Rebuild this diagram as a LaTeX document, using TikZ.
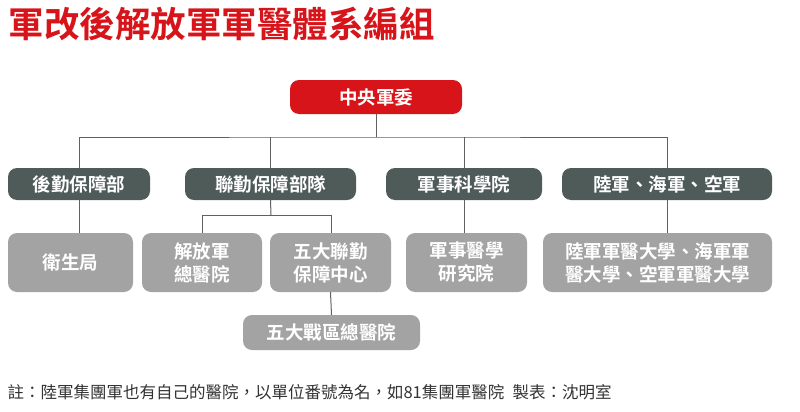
\documentclass[tikz,border=0pt]{standalone}
\usepackage{fontspec}
\setmainfont{Noto Sans CJK TC}
\newfontfamily\cjkb{Noto Sans CJK TC Bold}
\definecolor{tred}{HTML}{D7141A}
\definecolor{dgray}{HTML}{4F5B59}
\definecolor{lgray}{HTML}{A3A3A3}
\definecolor{lcol}{HTML}{606060}
\begin{document}
\begin{tikzpicture}[x=1pt,y=-1pt,
  box/.style={rounded corners=9pt,inner sep=0pt,text=white,font=\cjkb\fontsize{18.5}{23}\selectfont,align=center},
  dbox/.style={box,fill=dgray},
  gbox/.style={box,fill=lgray},
  ln/.style={draw=lcol,line width=1pt}]
\useasboundingbox (0,0) rectangle (800,412);
\node[anchor=west,text=tred,font=\cjkb\fontsize{35.5}{38}\selectfont] (title) at (5,24) {軍改後解放軍軍醫體系編組};
\node[box,fill=tred,minimum width=172pt,minimum height=34pt] (top) at (376,97) {中央軍委};
\node[dbox,minimum width=142pt,minimum height=32pt] (a) at (79,184) {後勤保障部};
\node[dbox,minimum width=171pt,minimum height=32pt] (b) at (270.5,184) {聯勤保障部隊};
\node[dbox,minimum width=156pt,minimum height=32pt] (c) at (464,184) {軍事科學院};
\node[dbox,minimum width=210pt,minimum height=32pt] (d) at (667,184) {陸軍、海軍、空軍};
\node[gbox,minimum width=125pt,minimum height=59pt] (a1) at (70.5,262.5) {衛生局};
\node[gbox,minimum width=120pt,minimum height=59pt] (b1) at (202,262.5) {解放軍\\總醫院};
\node[gbox,minimum width=121pt,minimum height=59pt] (b2) at (330.5,262.5) {五大聯勤\\保障中心};
\node[gbox,minimum width=121pt,minimum height=59pt] (c1) at (466.5,262.5) {軍事醫學\\研究院};
\node[gbox,minimum width=229pt,minimum height=59pt] (d1) at (657.5,262.5) {陸軍軍醫大學、海軍軍\\醫大學、空軍軍醫大學};
\node[gbox,minimum width=177pt,minimum height=35pt] (b3) at (331.5,332.5) {五大戰區總醫院};
\coordinate (j) at (376,137);
\draw[ln] (top.south) -- (j);
\draw[ln] (a.north) |- (j) -| (d.north);
\draw[ln] (b.north) -- (b.north|-j);
\draw[ln] (c.north) -- (c.north|-j);
\draw[ln] (a.south) -- (a1.north-|a.south);
\coordinate (k) at (271,215);
\draw[ln] (b.south) -- (k);
\draw[ln] (b1.north-|202,0) -- (202,215) -- (331,215) -- (b2.north-|331,0);
\draw[ln] (c.south) -- (c1.north-|c.south);
\draw[ln] (d.south) -- (d1.north-|d.south);
\draw[ln] (b2.south) -- (b3.north);
\node[anchor=west,text=black!80,font=\fontsize{16.5}{18}\selectfont] (note) at (4,392) {註：陸軍集團軍也有自己的醫院，以單位番號為名，如81集團軍醫院\enspace 製表：沈明室};
\end{tikzpicture}
\end{document}
